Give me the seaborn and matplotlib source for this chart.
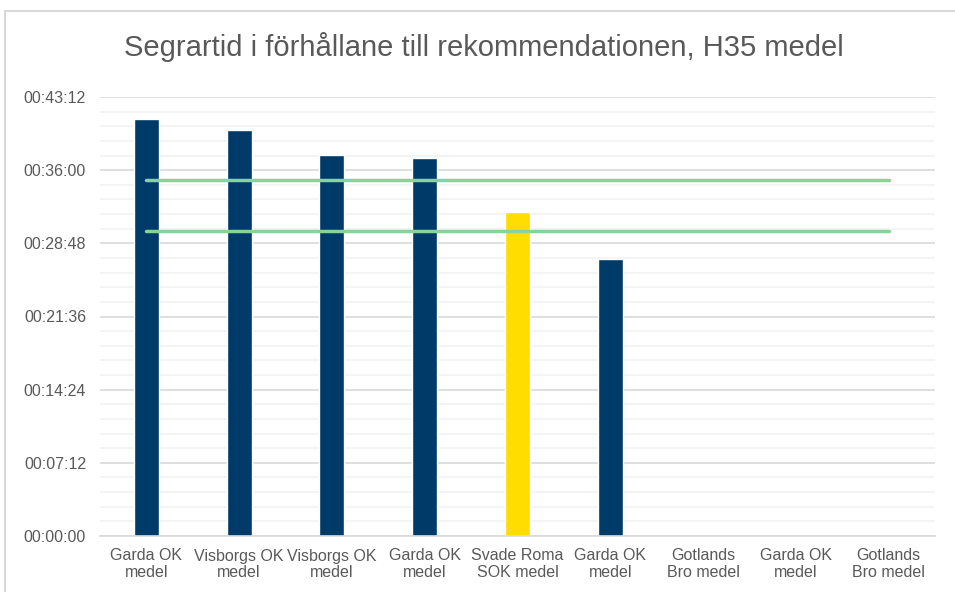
import matplotlib
matplotlib.use('Agg')
import matplotlib.pyplot as plt
import numpy as np
import pandas as pd
import seaborn as sns
from matplotlib.lines import Line2D
from matplotlib.ticker import FuncFormatter, MultipleLocator, FixedLocator

# Kategorier (klubb / rad i diagrammet)
labels = ["Garda OK\nmedel", "Visborgs OK\nmedel", "Visborgs OK\nmedel", "Garda OK\nmedel",
          "Svade Roma\nSOK medel", "Garda OK\nmedel", "Gotlands\nBro medel", "Garda OK\nmedel",
          "Gotlands\nBro medel"]
# Segrartid i sekunder (tomma kategorier = NaN)
segrartid = [2460, 2400, 2252, 2234, 1915, 1638, np.nan, np.nan, np.nan]
# Färg per stapel (Svade Roma markerad)
highlight = [False, False, False, False, True, False, False, False, False]
# Rekommenderad segrartid, nedre/övre gräns (sekunder)
rek_lag = [1800] * 9
rek_hog = [2100] * 9

NAVY = '#003A69'
YELLOW = '#FFDD00'
GREEN = '#86D49A'
TEXT = '#595959'

df = pd.DataFrame({'pos': range(len(labels)), 'tid': segrartid,
                   'grupp': ['hl' if h else 'std' for h in highlight]})

sns.set_style('white')
plt.rcParams['font.family'] = ['Liberation Sans', 'DejaVu Sans']

fig = plt.figure(figsize=(9.55, 5.92), dpi=100)
ax = fig.add_axes([100 / 955, 56 / 592, 835 / 955, 439 / 592])

sns.barplot(data=df, x='pos', y='tid', hue='grupp', order=list(range(len(labels))),
            palette={'std': NAVY, 'hl': YELLOW}, width=0.27, dodge=False,
            legend=False, ax=ax, saturation=1)

x = np.arange(len(labels))
sns.lineplot(x=x, y=rek_hog, color=GREEN, linewidth=2.5, ax=ax)
sns.lineplot(x=x, y=rek_lag, color=GREEN, linewidth=2.5, ax=ax)

ax.set_xlim(-0.5, len(labels) - 0.5)
ax.set_ylim(0, 2592)


def hms(v, _):
    v = int(round(v))
    return f"{v // 3600:02d}:{(v % 3600) // 60:02d}:{v % 60:02d}"


ax.yaxis.set_major_locator(MultipleLocator(432))
ax.yaxis.set_minor_locator(MultipleLocator(86.4))
ax.yaxis.set_major_formatter(FuncFormatter(hms))
ax.grid(axis='y', which='major', color='#D9D9D9', linewidth=1.2, zorder=0)
ax.grid(axis='y', which='minor', color='#F2F2F2', linewidth=1.2, zorder=0)
ax.set_axisbelow(True)

ax.set_xticks(x)
ax.set_xticklabels(labels, fontsize=11.5, color=TEXT, linespacing=1.1)
ax.xaxis.set_minor_locator(FixedLocator(np.arange(-0.5, len(labels), 1.0)))
ax.tick_params(axis='x', which='major', length=0, pad=9)
ax.tick_params(axis='x', which='minor', length=5, color='#D9D9D9', width=1.2)
ax.tick_params(axis='y', which='both', length=0, labelsize=11.5, labelcolor=TEXT, pad=10)

for s in ['top', 'right', 'left']:
    ax.spines[s].set_visible(False)
ax.spines['bottom'].set_color('#D9D9D9')
ax.spines['bottom'].set_linewidth(1.2)
ax.set_xlabel('')
ax.set_ylabel('')

fig.text(484 / 955, 1 - 47 / 592, "Segrartid i förhållane till rekommendationen, H35 medel",
         ha='center', va='center', fontsize=21, color=TEXT)

# diagramramen (beskuren till höger och nedtill)
fig.add_artist(Line2D([5 / 955, 5 / 955], [0, 1 - 11 / 592], transform=fig.transFigure,
                      color='#D9D9D9', linewidth=1.5))
fig.add_artist(Line2D([5 / 955, 1], [1 - 11 / 592, 1 - 11 / 592], transform=fig.transFigure,
                      color='#D9D9D9', linewidth=1.5))

fig.savefig('out.png', dpi=100, facecolor='white')
